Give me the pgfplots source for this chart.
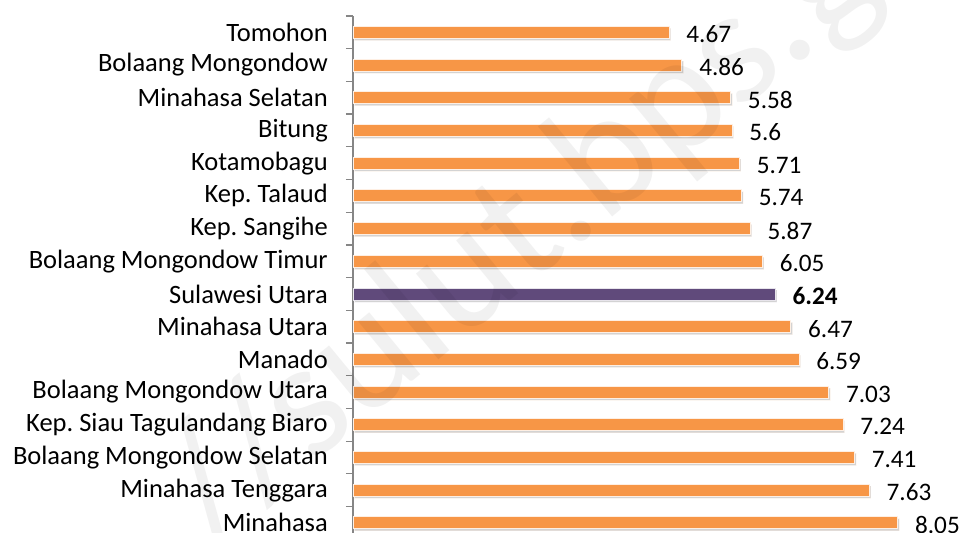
\documentclass[border=0pt]{standalone}
\usepackage{fontspec}
\setmainfont{Carlito}
\usepackage{pgfplots}
\pgfplotsset{compat=1.18}
\usetikzlibrary{shadows}
\definecolor{barorange}{HTML}{F79646}
\definecolor{barpurple}{HTML}{604A7B}
\definecolor{axgray}{HTML}{868686}
\newcommand\fs{\fontsize{26.5bp}{30bp}\selectfont}
\newcommand\fv{\fontsize{25.2bp}{30bp}\selectfont}
\frenchspacing
\begin{document}
\fs
\begin{tikzpicture}
\begin{axis}[
  at={(353bp,0bp)}, anchor=south west,
  scale only axis, width=609bp, height=517bp,
  xbar, bar width=12bp, bar shift=0pt,
  xmin=0, xmax=9, ymin=-0.31, ymax=15.5,
  axis x line=none,
  axis y line*=left,
  axis line style={axgray, line width=1.2bp},
  ytick={0,...,15},
  yticklabels={Minahasa,Minahasa Tenggara,Bolaang Mongondow Selatan,Kep. Siau Tagulandang Biaro,Bolaang Mongondow Utara,Manado,Minahasa Utara,Sulawesi Utara,Bolaang Mongondow Timur,Kep. Sangihe,Kep. Talaud,Kotamobagu,Bitung,Minahasa Selatan,Bolaang Mongondow,Tomohon},
  minor ytick={-0.5,0.5,...,15.5},
  major tick length=0pt,
  minor tick length=7bp,
  tick align=outside,
  minor tick style={axgray, line width=1.2bp},
  yticklabel style={font=\fs, inner sep=0pt, xshift=-25bp, text=black},
  /pgf/number format/assume math mode=true,
  nodes near coords,
  nodes near coords style={font=\fv, anchor=west, inner sep=0pt, xshift=17bp, yshift=-2bp, text=black},
  clip=false,
]
\addplot[fill=barorange, draw=white!85!barorange, line width=0.8bp,
  drop shadow={shadow xshift=1.5bp, shadow yshift=-2bp, opacity=0.35}]
  coordinates {(8.05,0) (7.63,1) (7.41,2) (7.24,3) (7.03,4) (6.59,5) (6.47,6) (6.05,8) (5.87,9) (5.74,10) (5.71,11) (5.6,12) (5.58,13) (4.86,14) (4.67,15)};
\addplot[fill=barpurple, draw=white!85!barpurple, line width=0.8bp,
  drop shadow={shadow xshift=1.5bp, shadow yshift=-2bp, opacity=0.35},
  nodes near coords style={font=\fv\bfseries}]
  coordinates {(6.24,7)};
\node[rotate=39.5, anchor=base west, inner sep=0pt, font=\fontsize{168bp}{168bp}\selectfont, text=black, text opacity=0.055] at (rel axis cs:-0.23,-0.025) {//sulut.bps.go.id};
\end{axis}
\pgfresetboundingbox
\path (0,0) rectangle (962bp,533bp);
\end{tikzpicture}
\end{document}
